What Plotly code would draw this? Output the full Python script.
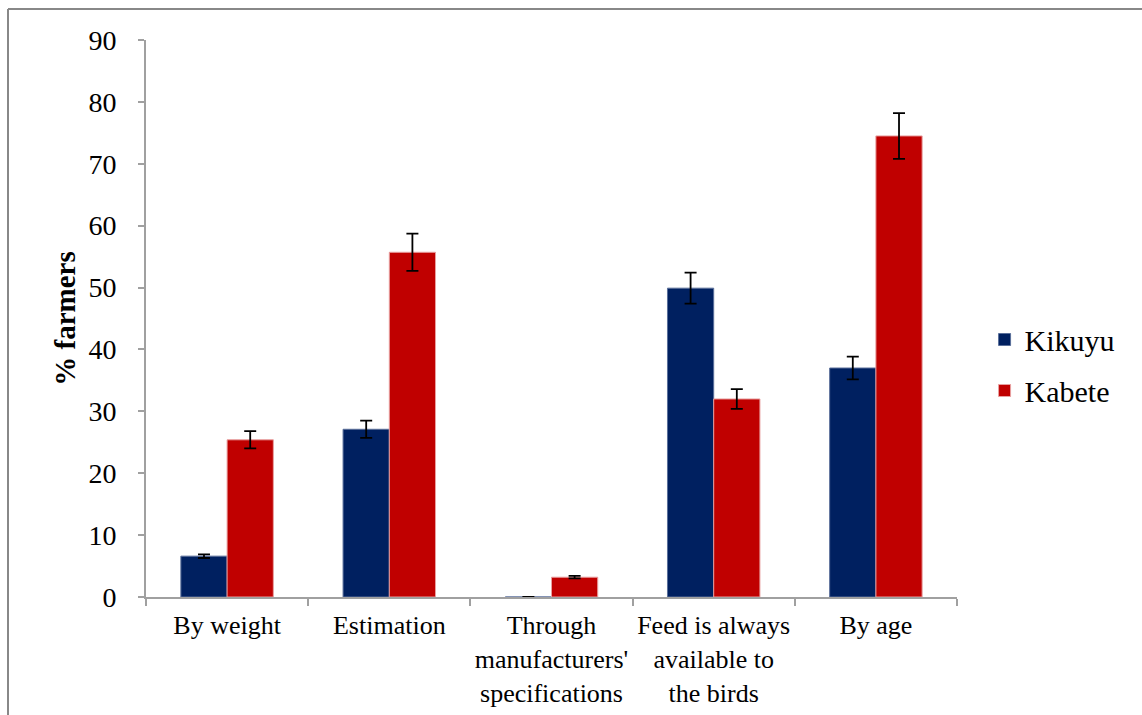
import plotly.graph_objects as go

categories = ["By weight", "Estimation", "Through<br>manufacturers'<br>specifications",
              "Feed is always<br>available to<br>the birds", "By age"]
kikuyu = [6.6, 27.1, 0.0, 49.9, 37.0]
kikuyu_err = [0.3, 1.4, 0.0, 2.5, 1.85]
kabete = [25.4, 55.7, 3.2, 32.0, 74.5]
kabete_err = [1.4, 3.0, 0.2, 1.6, 3.7]

font_family = "Times New Roman, Liberation Serif, serif"

fig = go.Figure()
fig.add_trace(go.Bar(
    name="Kikuyu", x=categories, y=kikuyu,
    marker=dict(color="#002060", line=dict(color="#5a6f9a", width=1)),
    error_y=dict(type="data", array=kikuyu_err, visible=True, color="black", thickness=1.8, width=6),
    legendgroup="a",
))
fig.add_trace(go.Bar(
    name="Kabete", x=categories, y=kabete,
    marker=dict(color="#C00000", line=dict(color="#e8a0a0", width=1)),
    error_y=dict(type="data", array=kabete_err, visible=True, color="black", thickness=1.8, width=6),
    legendgroup="b",
))

fig.update_layout(
    width=1142, height=715,
    margin=dict(l=146, r=185, t=40, b=118, autoexpand=False),
    paper_bgcolor="white", plot_bgcolor="white",
    barmode="group", bargap=0.43, bargroupgap=0,
    font=dict(family=font_family, color="black"),
    legend=dict(x=1.034, y=0.4165, xanchor="left", yanchor="middle",
                font=dict(size=30, family=font_family, color="black"), tracegroupgap=9,
                traceorder="grouped", itemwidth=30),
    showlegend=True,
)
fig.update_xaxes(
    showline=True, linecolor="#a0a0a0", linewidth=2,
    ticks="outside", tickson="boundaries", ticklen=7, tickcolor="#a0a0a0", tickwidth=2,
    tickfont=dict(size=26, family=font_family, color="black"),
    tickangle=0, automargin=False,
    ticklabelstandoff=4,
    showgrid=False,
)
fig.update_yaxes(
    range=[0, 90], dtick=10, tick0=0,
    showline=True, linecolor="#a0a0a0", linewidth=2,
    ticks="outside", ticklen=6, tickcolor="#a0a0a0", tickwidth=2,
    tickfont=dict(size=28, family=font_family, color="black"),
    ticklabelstandoff=16, automargin=False,
    showgrid=False, zeroline=False,
    title=dict(text="<b>% farmers</b>", font=dict(size=29, family=font_family, color="black"), standoff=4),
)

# outer frame (cropped chart border)
fig.add_shape(type="line", xref="paper", yref="paper",
              x0=(8 - 146) / 811, x1=(1142 - 146) / 811 + 0.01,
              y0=(597 - 9) / 557, y1=(597 - 9) / 557,
              line=dict(color="#888888", width=2))
fig.add_shape(type="line", xref="paper", yref="paper",
              x0=(8 - 146) / 811, x1=(8 - 146) / 811,
              y0=(597 - 9) / 557, y1=(597 - 716) / 557,
              line=dict(color="#888888", width=2))

fig.write_html("out.html")
